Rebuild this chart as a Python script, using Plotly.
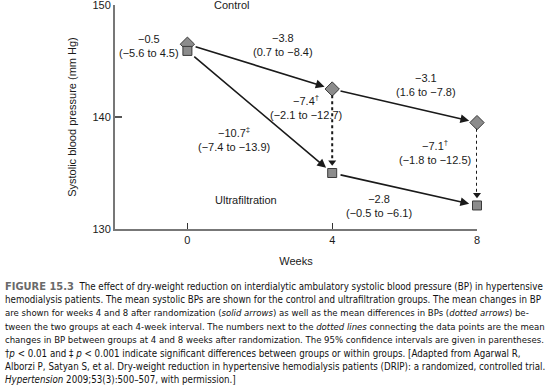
import plotly.graph_objects as go

weeks = [0, 4, 8]
control = [146.5, 142.5, 139.5]
ultrafiltration = [145.9, 135.0, 132.1]

change_labels_control = ["−3.8<br>(0.7 to −8.4)", "−3.1<br>(1.6 to −7.8)"]
change_labels_uf = ["−10.7<sup>‡</sup><br>(−7.4 to −13.9)", "−2.8<br>(−0.5 to −6.1)"]
diff_labels = ["−0.5<br>(−5.6 to 4.5)", "−7.4<sup>†</sup><br>(−2.1 to −12.7)", "−7.1<sup>†</sup><br>(−1.8 to −12.5)"]
yticks = [130, 140, 150]
xticks = [0, 4, 8]

caption_lines = [
    "<b><span style='color:#6a6a6a;font-size:11px'>FIGURE 15.3</span></b>  The effect of dry-weight reduction on interdialytic ambulatory systolic blood pressure (BP) in hypertensive",
    "hemodialysis patients. The mean systolic BPs are shown for the control and ultrafiltration groups. The mean changes in BP",
    "are shown for weeks 4 and 8 after randomization (<i>solid arrows</i>) as well as the mean differences in BPs (<i>dotted arrows</i>) be-",
    "tween the two groups at each 4-week interval. The numbers next to the <i>dotted lines</i> connecting the data points are the mean",
    "changes in BP between groups at 4 and 8 weeks after randomization. The 95% confidence intervals are given in parentheses.",
    "†<i>p</i> < 0.01 and ‡ <i>p</i> < 0.001 indicate significant differences between groups or within groups. [Adapted from Agarwal R,",
    "Alborzi P, Satyan S, et al. Dry-weight reduction in hypertensive hemodialysis patients (DRIP): a randomized, controlled trial.",
    "<i>Hypertension</i> 2009;53(3):500–507, with permission.]",
]
caption_sizes = [9.7, 9.7, 9.5, 9.5, 9.5, 9.7, 9.7, 9.7]

FONT = "Liberation Sans, Arial, sans-serif"
ARROW = "#1a1a1a"

fig = go.Figure()

# dotted difference lines (weeks 4 and 8)
for i in [1, 2]:
    fig.add_shape(type="line", xref="x", yref="y",
                  x0=weeks[i], x1=weeks[i],
                  y0=control[i] - 0.55, y1=ultrafiltration[i] + 1.2,
                  line=dict(color=ARROW, width=2, dash="dot"))
fig.add_trace(go.Scatter(
    x=[weeks[1], weeks[2]], y=[ultrafiltration[1] + 0.95, ultrafiltration[2] + 0.95],
    mode="markers", marker=dict(symbol="triangle-down", size=7, color=ARROW),
    hoverinfo="skip", showlegend=False, cliponaxis=False))

fig.add_trace(go.Scatter(
    x=weeks, y=control, mode="markers", cliponaxis=False,
    marker=dict(symbol="diamond", size=11, color="#8c8c8c", line=dict(color="#3a3a3a", width=1)),
    showlegend=False))
fig.add_trace(go.Scatter(
    x=weeks, y=ultrafiltration, mode="markers", cliponaxis=False,
    marker=dict(symbol="square", size=9, color="#8c8c8c", line=dict(color="#3a3a3a", width=1)),
    showlegend=False))

annotations = []
# solid arrows
for series in (control, ultrafiltration):
    for i in range(2):
        annotations.append(dict(
            x=weeks[i + 1], y=series[i + 1], ax=weeks[i], ay=series[i],
            xref="x", yref="y", axref="x", ayref="y",
            showarrow=True, arrowhead=2, arrowsize=1.1, arrowwidth=1.6,
            arrowcolor=ARROW, standoff=8, startstandoff=7, text=""))

def lab(x, y, text):
    annotations.append(dict(x=x, y=y, xref="x", yref="y", text=text, showarrow=False,
                            font=dict(family=FONT, size=11, color="#1a1a1a"), align="center"))

lab(1.22, 150.0, "Control")
lab(1.61, 132.6, "Ultrafiltration")
lab(-1.06, 146.3, diff_labels[0])
lab(3.28, 140.9, diff_labels[1])
lab(6.83, 136.9, diff_labels[2])
lab(2.64, 146.45, change_labels_control[0])
lab(6.58, 142.9, change_labels_control[1])
lab(1.28, 138.05, change_labels_uf[0])
lab(5.28, 132.05, change_labels_uf[1])

# caption
for k, line in enumerate(caption_lines):
    py = 286 + k * 13.4
    annotations.append(dict(
        x=(3 - 115) / 362, y=(229 - py) / 224, xref="paper", yref="paper",
        xanchor="left", yanchor="middle", text=line, showarrow=False,
        font=dict(family="Liberation Sans Narrow, DejaVu Sans Condensed, Arial Narrow, sans-serif",
                  size=caption_sizes[k], color="#111111")))

fig.update_layout(
    width=550, height=391,
    margin=dict(l=115, r=73, t=5, b=162, autoexpand=False),
    paper_bgcolor="white", plot_bgcolor="white",
    font=dict(family=FONT, size=11, color="#1a1a1a"),
    annotations=annotations,
    xaxis=dict(range=[-2, 8], tickvals=xticks, ticks="inside", ticklen=6, tickwidth=1.2,
               tickcolor="#333", showline=True, linecolor="#777", linewidth=2,
               showgrid=False, zeroline=False, ticklabeloverflow="allow",
               title=dict(text="Weeks", standoff=12, font=dict(size=11))),
    yaxis=dict(range=[130, 150], tickvals=yticks, ticks="inside", ticklen=7, tickwidth=1.5,
               tickcolor="#555", showline=True, linecolor="#777", linewidth=2,
               showgrid=False, zeroline=False, ticklabeloverflow="allow",
               title=dict(text="Systolic blood pressure (mm Hg)", standoff=14, font=dict(size=11))),
)

fig.write_html("out.html", config={"displayModeBar": False},
               post_script="document.body.style.margin='0';document.body.style.overflow='hidden';")
